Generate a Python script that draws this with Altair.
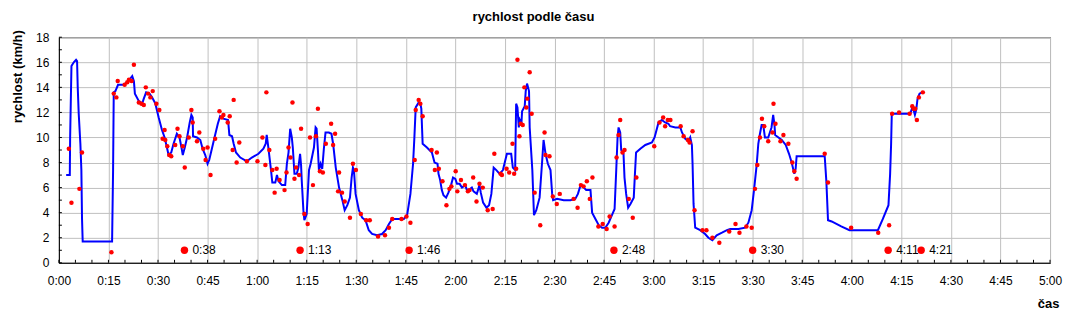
import altair as alt
import pandas as pd

# ---- blue speed line (time in minutes, speed in km/h) ----
line_t = [
    2.2, 3.3, 3.4, 3.8, 4.5, 5.2, 5.5, 5.7, 6.0, 6.5,
    6.8, 7.0, 7.2, 16.1, 16.4, 16.6, 17.1, 17.9, 19.6, 20.6,
    21.6, 22.2, 22.7, 23.0, 24.2, 25.2, 25.7, 26.4, 27.4, 28.2,
    29.2, 30.2, 31.2, 32.0, 32.7, 33.2, 34.0, 34.7, 35.7, 36.5,
    37.1, 37.5, 38.1, 38.8, 39.6, 40.1, 40.5, 40.6, 41.8, 42.8,
    43.5, 44.3, 45.0, 45.5, 46.3, 47.1, 48.1, 48.8, 49.8, 51.2,
    51.6, 52.4, 52.9, 53.6, 54.9, 56.9, 58.4, 60.4, 61.9, 62.6,
    62.9, 63.4, 64.2, 64.6, 65.5, 66.0, 66.5, 67.5, 68.5, 69.0,
    69.5, 70.0, 70.5, 70.8, 71.3, 72.0, 72.5, 73.0, 73.3, 73.5,
    74.0, 74.3, 75.0, 75.7, 76.2, 77.2, 77.7, 78.0, 78.4, 78.7,
    79.2, 79.7, 80.2, 80.7, 81.7, 82.5, 83.0, 83.8, 84.8, 85.8,
    86.5, 87.3, 88.1, 88.6, 89.0, 89.3, 89.8, 90.8, 91.8, 92.8,
    93.8, 94.8, 96.3, 97.8, 98.9, 99.9, 100.9, 104.4, 105.4, 106.4,
    107.2, 107.6, 108.0, 108.9, 109.4, 109.7, 110.1, 111.4, 112.9, 113.7,
    114.6, 114.9, 115.4, 115.9, 116.4, 117.2, 117.9, 118.7, 119.3, 120.0,
    120.5, 121.3, 122.0, 123.0, 123.5, 124.5, 125.0, 125.5, 126.5, 127.3,
    127.7, 128.4, 129.4, 130.2, 130.9, 131.6, 132.4, 133.4, 134.4, 135.6,
    136.9, 137.4, 138.1, 138.4, 138.8, 139.2, 139.5, 140.0, 140.2, 141.0,
    141.3, 141.7, 142.3, 142.5, 143.3, 143.8, 144.5, 145.5, 146.3, 146.7,
    147.3, 148.0, 148.8, 149.3, 149.6, 150.8, 152.8, 154.8, 156.3, 157.1,
    157.9, 158.9, 159.6, 160.9, 161.4, 162.4, 163.4, 164.4, 165.4, 166.4,
    167.4, 168.2, 168.7, 169.1, 169.4, 169.9, 170.2, 170.9, 171.2, 171.7,
    172.3, 173.0, 174.0, 174.3, 174.7, 176.0, 177.5, 179.5, 180.3, 180.7,
    181.5, 182.5, 183.5, 184.5, 185.0, 186.6, 188.1, 188.6, 189.6, 190.6,
    191.1, 191.6, 191.8, 192.1, 192.6, 194.1, 195.6, 196.6, 197.8, 199.1,
    200.7, 202.2, 203.2, 205.7, 207.7, 208.7, 209.7, 210.4, 211.2, 211.7,
    212.2, 212.7, 213.2, 213.7, 214.7, 215.2, 215.7, 216.2, 216.6, 216.8,
    217.8, 218.8, 220.0, 221.0, 221.8, 222.6, 223.0, 223.3, 231.8, 232.3,
    232.8, 233.9, 236.8, 239.3, 247.9, 249.4, 251.1, 251.6, 251.9, 252.1,
    257.7, 258.2, 258.7, 259.1, 259.5, 259.9, 260.5, 261.2,
]
line_v = [
    7.0, 7.0, 10.0, 15.7, 16.0, 16.2, 16.1, 14.0, 11.9, 9.5,
    7.4, 3.5, 1.7, 1.7, 7.4, 13.6, 13.7, 14.2, 14.2, 14.4,
    14.7, 14.9, 14.5, 13.5, 12.9, 12.7, 13.1, 13.6, 13.5, 13.2,
    12.7, 11.6, 10.6, 10.0, 9.2, 8.6, 8.8, 9.5, 10.3, 10.0,
    9.2, 8.6, 9.2, 10.0, 11.2, 11.8, 11.6, 10.1, 10.0, 9.8,
    9.1, 8.6, 7.9, 8.2, 9.1, 10.0, 11.1, 11.7, 11.5, 11.4,
    10.2, 10.1, 9.5, 8.8, 8.4, 8.1, 8.4, 8.7, 9.1, 9.5,
    10.2, 9.2, 7.4, 6.4, 6.4, 7.0, 6.5, 6.2, 6.2, 7.9,
    8.8, 10.7, 10.0, 9.2, 7.1, 7.1, 7.6, 8.7, 7.8, 6.6,
    4.2, 3.4, 3.9, 7.4, 7.9, 9.2, 10.8, 10.7, 9.0, 7.4,
    7.9, 7.5, 9.1, 10.4, 10.4, 10.3, 9.5, 7.6, 6.0, 5.0,
    4.2, 4.6, 5.2, 6.8, 7.6, 7.4, 5.5, 4.2, 3.6, 3.4,
    2.6, 2.3, 2.2, 2.3, 2.6, 3.1, 3.5, 3.5, 3.8, 5.5,
    7.9, 10.0, 12.4, 12.8, 12.7, 12.3, 9.5, 9.2, 8.8, 8.0,
    7.9, 7.1, 6.6, 5.8, 5.4, 5.2, 5.6, 6.2, 6.8, 6.7,
    6.3, 6.3, 6.0, 6.2, 5.8, 5.9, 6.0, 5.7, 5.5, 6.2,
    5.6, 4.8, 4.4, 4.6, 5.5, 7.6, 7.4, 7.1, 7.4, 8.7,
    8.7, 7.6, 7.4, 12.7, 12.4, 10.8, 11.4, 11.1, 12.1, 12.5,
    13.7, 14.3, 13.7, 10.8, 7.4, 3.8, 4.2, 5.2, 8.2, 9.8,
    8.7, 7.9, 7.4, 5.5, 5.0, 5.1, 5.0, 5.0, 5.1, 5.5,
    6.2, 6.0, 5.8, 5.8, 4.0, 3.5, 3.0, 2.8, 2.8, 3.2,
    3.8, 4.3, 7.4, 10.0, 10.8, 10.4, 9.0, 8.7, 6.8, 5.5,
    4.4, 4.7, 5.2, 6.8, 8.8, 9.1, 9.4, 9.6, 10.0, 10.4,
    11.2, 11.4, 11.2, 11.1, 10.9, 10.8, 10.8, 10.4, 9.9, 9.7,
    10.0, 9.4, 7.9, 4.7, 2.8, 2.6, 2.3, 2.0, 1.8, 2.2,
    2.4, 2.6, 2.7, 2.7, 2.8, 3.2, 4.2, 5.8, 7.8, 9.5,
    10.3, 11.0, 11.0, 10.0, 10.0, 10.4, 10.8, 11.8, 11.0, 10.2,
    10.0, 9.8, 9.4, 8.7, 8.0, 7.1, 7.5, 8.5, 8.5, 6.5,
    3.4, 3.3, 2.9, 2.6, 2.6, 3.5, 4.6, 7.1, 9.5, 11.9,
    11.9, 12.3, 12.2, 11.8, 12.2, 13.1, 13.5, 13.6,
]

# ---- red measured points ----
dot_t = [
    3.0, 3.8, 6.2, 7.0, 15.9, 16.6, 17.4, 17.8, 19.9, 20.7,
    21.2, 22.0, 22.7, 24.2, 25.0, 25.7, 26.3, 27.0, 27.7, 28.4,
    29.5, 30.4, 32.0, 31.4, 32.2, 32.8, 33.4, 34.0, 35.2, 35.9,
    36.5, 37.5, 38.1, 39.3, 40.1, 40.5, 41.8, 42.5, 43.7, 44.4,
    45.0, 45.9, 47.3, 48.6, 49.3, 49.8, 51.1, 51.7, 52.9, 52.6,
    53.8, 54.6, 56.9, 60.1, 61.6, 62.5, 62.8, 63.7, 64.6, 65.3,
    65.9, 66.8, 68.3, 68.9, 69.5, 70.1, 70.7, 71.3, 71.8, 72.7,
    73.3, 74.3, 75.3, 76.0, 76.9, 77.8, 78.4, 79.0, 79.9, 80.8,
    82.4, 83.0, 83.6, 84.5, 84.8, 85.7, 86.5, 88.1, 89.0, 89.9,
    91.4, 93.0, 94.1, 96.6, 98.7, 99.9, 100.9, 103.7, 105.2, 106.4,
    107.7, 108.0, 108.9, 109.4, 110.1, 112.8, 114.4, 113.8, 115.0, 116.1,
    117.3, 118.2, 118.8, 120.1, 120.6, 121.7, 122.9, 123.8, 124.3, 125.4,
    126.4, 127.3, 128.3, 129.8, 131.3, 131.8, 133.7, 134.1, 135.5, 136.3,
    137.3, 137.8, 138.4, 138.8, 139.4, 139.8, 140.4, 140.9, 141.5, 141.8,
    142.5, 143.1, 144.0, 145.7, 147.0, 147.3, 148.5, 149.5, 150.7, 151.6,
    155.8, 157.0, 158.0, 158.8, 159.8, 160.7, 161.5, 163.3, 164.6, 165.8,
    166.7, 168.2, 168.8, 169.4, 169.9, 170.6, 171.2, 172.5, 173.7, 174.8,
    180.2, 181.8, 182.9, 183.5, 184.3, 185.1, 188.2, 189.1, 190.4, 190.9,
    191.8, 192.4, 194.8, 196.0, 197.8, 199.9, 202.9, 204.8, 206.0, 208.1,
    209.7, 210.7, 211.4, 212.2, 212.8, 213.5, 214.7, 216.0, 216.3, 216.9,
    218.4, 219.3, 220.8, 222.0, 222.6, 223.3, 231.8, 232.8, 239.8, 248.0,
    251.3, 252.2, 254.3, 257.5, 258.3, 258.7, 259.2, 259.7, 260.3, 261.5,
]
dot_v = [
    9.1, 4.8, 5.9, 8.8, 0.85, 13.5, 13.2, 14.5, 14.2, 14.4,
    14.6, 14.5, 15.8, 12.8, 12.7, 12.6, 14.0, 13.5, 13.2, 13.7,
    12.7, 12.2, 10.6, 9.9, 9.8, 9.3, 8.6, 8.5, 9.4, 10.7,
    10.1, 9.3, 7.6, 10.0, 12.2, 11.2, 9.7, 10.4, 9.1, 8.2,
    9.2, 7.0, 9.9, 12.1, 11.6, 11.8, 11.2, 11.7, 13.0, 9.0,
    8.0, 9.6, 8.1, 8.1, 10.0, 7.8, 13.6, 9.0, 7.4, 5.6,
    7.5, 6.6, 5.8, 7.2, 9.2, 8.4, 12.8, 6.7, 7.6, 7.0,
    10.7, 3.9, 3.1, 10.0, 6.2, 10.1, 12.3, 7.3, 7.2, 9.5,
    11.1, 9.4, 10.3, 5.7, 7.2, 5.6, 4.9, 3.6, 7.9, 7.4,
    3.9, 3.4, 3.4, 2.1, 2.2, 2.8, 3.5, 3.5, 3.7, 3.2,
    8.2, 12.2, 13.0, 12.7, 11.7, 9.0, 8.8, 7.4, 7.5, 6.5,
    4.6, 5.9, 6.1, 7.3, 5.7, 6.6, 6.2, 5.7, 5.8, 6.8,
    4.9, 6.3, 6.0, 4.2, 4.3, 8.7, 7.1, 7.0, 7.5, 7.2,
    9.5, 7.1, 7.5, 16.2, 10.1, 11.1, 11.0, 14.0, 12.4, 13.1,
    15.2, 11.9, 5.6, 3.0, 10.4, 8.6, 8.5, 5.3, 4.7, 5.5,
    5.1, 4.4, 6.2, 6.1, 6.5, 5.1, 6.8, 2.9, 3.1, 2.7,
    3.7, 2.9, 8.4, 10.2, 11.4, 8.8, 9.0, 5.1, 3.6, 6.8,
    9.3, 11.2, 11.6, 10.9, 11.4, 11.4, 10.9, 10.1, 9.8, 9.6,
    10.5, 4.2, 2.6, 2.6, 2.0, 1.6, 2.5, 3.1, 2.4, 2.9,
    2.8, 5.9, 7.8, 10.0, 11.5, 10.9, 9.7, 10.4, 12.7, 11.1,
    9.7, 10.2, 9.5, 8.0, 7.3, 6.7, 8.7, 6.4, 2.8, 2.4,
    3.0, 11.9, 12.0, 11.9, 12.5, 12.3, 12.3, 11.4, 13.2, 13.6,
]

# ---- time markers along the bottom ----
mark_t = [38, 73, 106, 168, 210, 251, 261]
mark_labels = ["0:38", "1:13", "1:46", "2:48", "3:30", "4:11", "4:21"]
mark_level = 1

# ---- axis ticks ----
x_grid_values = list(range(0, 301, 15))
x_minor_ticks = list(range(0, 301, 5))
y_grid_values = list(range(0, 19, 2))
y_minor_ticks = list(range(0, 19, 1))

FONT = "Liberation Sans"

line_df = pd.DataFrame({"t": line_t, "v": line_v})
dot_df = pd.DataFrame({"t": dot_t, "v": dot_v})
mark_df = pd.DataFrame({"t": mark_t, "v": [mark_level] * len(mark_t), "label": mark_labels})
xt_df = pd.DataFrame({"t": x_minor_ticks})
yt_df = pd.DataFrame({"v": y_minor_ticks})

x_scale = alt.Scale(domain=[0, 300], nice=False, zero=False)
y_scale = alt.Scale(domain=[0, 18], nice=False)

x_axis = alt.Axis(
    values=x_grid_values,
    labelExpr="floor(datum.value/60) + ':' + (datum.value % 60 < 10 ? '0' : '') + (datum.value % 60)",
    title="čas",
    titleX=1002, titleY=45, titleAlign="right", titleBaseline="alphabetic", titleAngle=0,
    ticks=False, labelPadding=13, labelFlush=False, labelOverlap=False,
    grid=True,
)
y_axis = alt.Axis(
    values=y_grid_values,
    title="rychlost (km/h)",
    titleX=-41, titleY=39, titleAngle=270, titleAlign="center", titleBaseline="middle",
    ticks=False, labelPadding=10, labelFlush=False, labelOverlap=False,
    grid=True,
)

# every layer carries the identical axis definition, so the merged axes keep it
X = lambda: alt.X("t:Q", scale=x_scale, axis=x_axis, title="čas")
Y = lambda: alt.Y("v:Q", scale=y_scale, axis=y_axis, title="rychlost (km/h)")

line = alt.Chart(line_df).mark_line(color="#0000ff", strokeWidth=2).encode(
    x=X(), y=Y(),
)

xticks = alt.Chart(xt_df).mark_rule(color="black", strokeWidth=1).encode(
    x=X(), y=alt.value(226), y2=alt.value(223),
)
yticks = alt.Chart(yt_df).mark_rule(color="black", strokeWidth=1).encode(
    y=Y(), x=alt.value(0), x2=alt.value(3),
)

dots = alt.Chart(dot_df).mark_circle(color="#ff0000", size=20, opacity=1).encode(
    x=X(), y=Y(),
)

markers = alt.Chart(mark_df).mark_circle(color="#ff0000", size=55, opacity=1).encode(
    x=X(), y=Y(),
)
mark_text = alt.Chart(mark_df).mark_text(
    align="left", baseline="middle", dx=8, font=FONT, fontSize=12, color="black"
).encode(
    x=X(), y=Y(), text="label:N",
)

chart = alt.layer(line, xticks, yticks, dots, mark_text, markers).properties(
    width=993,
    height=226,
    autosize=alt.AutoSizeParams(type="none"),
    padding={"left": 51, "top": 29, "right": 13, "bottom": 48},
    title=alt.TitleParams(
        "rychlost podle času", font=FONT, fontSize=13, fontWeight="bold",
        color="black", anchor="middle", dx=-21, dy=21, offset=17, baseline="alphabetic",
    ),
).configure_axis(
    gridColor="#c0c0c0", gridWidth=1, gridOpacity=1,
    domainColor="black", domainWidth=1,
    labelColor="black", labelFont=FONT, labelFontSize=12,
    titleColor="black", titleFont=FONT, titleFontSize=13, titleFontWeight="bold",
).configure_view(stroke="black", strokeWidth=1)

chart.save("out.html", embed_options={"renderer": "svg", "actions": False})
